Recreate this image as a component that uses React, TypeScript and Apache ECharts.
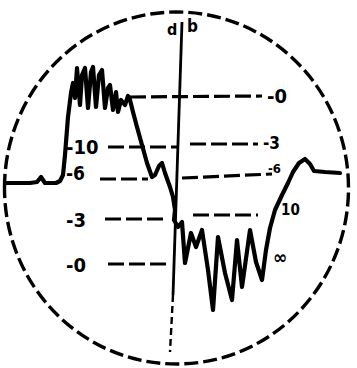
import React, { useEffect, useRef } from "react";
import * as echarts from "echarts";

// Trace (scope units: x to the right, y downward)
const traceX = [6, 30, 37, 41, 45, 56, 60, 63, 65, 68, 71, 73,
  75, 77, 80, 82, 85, 88, 91, 93, 96, 99, 102, 105, 108, 110, 113, 116, 118, 121, 125, 128, 130,
  133, 137, 142, 147, 152, 155, 159, 162, 165, 170, 173, 175, 174, 178, 182,
  185, 191, 196, 202, 208, 213, 218, 225, 232, 237, 242, 250, 256, 262, 266, 270, 275,
  282, 288, 293, 299, 305, 310, 314, 325, 340];
const traceY = [183, 183, 182, 177, 183, 183, 181, 175, 155, 117, 93, 83,
  98, 68, 105, 75, 68, 108, 72, 67, 107, 75, 70, 108, 88, 85, 110, 92, 112, 100, 105, 96, 100,
  112, 127, 145, 163, 177, 175, 166, 163, 173, 187, 197, 210, 220, 227, 222,
  263, 233, 247, 230, 270, 310, 237, 273, 300, 240, 287, 230, 262, 280, 250, 228, 210,
  195, 183, 172, 163, 159, 164, 171, 172, 173];

// Reference level lines: start x, start y, end x, end y
const refX1 = [130, 108, 190, 100, 182, 105, 193, 108];
const refY1 = [97, 147, 144, 179, 178, 219, 215, 264];
const refX2 = [262, 178, 258, 148, 272, 165, 258, 166];
const refY2 = [96, 147, 144, 179, 174, 219, 215, 264];

// Vertical axis (db)
const axisX = [182, 173, 170];
const axisY = [22, 295, 352];

// Scale labels
const labelTexts = ["d", "b", "-0", "-3", "-6", "10", "∞", "-10", "-6", "-3", "-0"];
const labelX = [167, 187, 267, 263, 268, 281, 273, 66, 66, 66, 66];
const labelY = [29, 26, 96, 143, 168, 210, 257, 147, 173, 220, 265];
const labelSizes = [16, 17, 20, 17, 13, 15, 19, 20, 19, 20, 20];

// Scope face outline
const faceCenter = [176.5, 188];
const faceRadii = [172, 176];

const FONT = '"DejaVu Sans Condensed", "Liberation Sans Narrow", "DejaVu Sans", sans-serif';

export default function App() {
  const ref = useRef<HTMLDivElement>(null);
  useEffect(() => {
    if (!ref.current) return;
    document.body.style.margin = "0";
    const chart = echarts.init(ref.current, null, { renderer: "svg" });
    const series: any[] = [];
    series.push({
      type: "line",
      data: traceX.map((x, i) => [x, traceY[i]]),
      symbol: "none",
      z: 5,
      lineStyle: { color: "#000", width: 4.2, join: "round", cap: "round" },
    });
    series.push({
      type: "line",
      data: [[axisX[0], axisY[0]], [axisX[1], axisY[1]]],
      symbol: "none",
      z: 3,
      lineStyle: { color: "#000", width: 2.8 },
    });
    series.push({
      type: "line",
      data: [[axisX[1], axisY[1]], [axisX[2], axisY[2]]],
      symbol: "none",
      z: 3,
      lineStyle: { color: "#000", width: 2.4, type: [7, 4] },
    });
    refX1.forEach((x1, i) => {
      series.push({
        type: "line",
        data: [[x1, refY1[i]], [refX2[i], refY2[i]]],
        symbol: "none",
        z: 2,
        lineStyle: { color: "#000", width: 3.2, type: [16, 5] },
      });
    });
    series.push({
      type: "scatter",
      symbolSize: 0,
      z: 6,
      itemStyle: { opacity: 1, color: "#000" },
      data: labelTexts.map((t, i) => ({
        name: t,
        value: [labelX[i], labelY[i]],
        label: { fontSize: labelSizes[i] },
      })),
      label: {
        show: true,
        position: [0, 0],
        align: "left",
        verticalAlign: "middle",
        formatter: (p: any) => p.name,
        color: "#000",
        opacity: 1,
        fontWeight: "bold",
        fontFamily: FONT,
      },
    });
    chart.setOption({
      animation: false,
      backgroundColor: "#ffffff",
      grid: { left: 0, right: 0, top: 0, bottom: 0 },
      xAxis: { type: "value", min: 0, max: 357, show: false },
      yAxis: { type: "value", min: 0, max: 368, inverse: true, show: false },
      series,
    });
    const c = chart.convertToPixel({ gridIndex: 0 }, faceCenter) as number[];
    const e = chart.convertToPixel({ gridIndex: 0 }, [faceCenter[0] + faceRadii[0], faceCenter[1] + faceRadii[1]]) as number[];
    chart.setOption({
      graphic: [
        {
          type: "ellipse",
          shape: { cx: c[0], cy: c[1], rx: Math.abs(e[0] - c[0]), ry: Math.abs(e[1] - c[1]) },
          style: { fill: "none", stroke: "#000", lineWidth: 3.4, lineDash: [14, 5] },
          z: 1,
        },
      ],
    });
    return () => chart.dispose();
  }, []);
  return (
    <div
      ref={ref}
      style={{ position: "fixed", left: 0, top: 0, width: 357, height: 368, background: "#fff" }}
    />
  );
}
